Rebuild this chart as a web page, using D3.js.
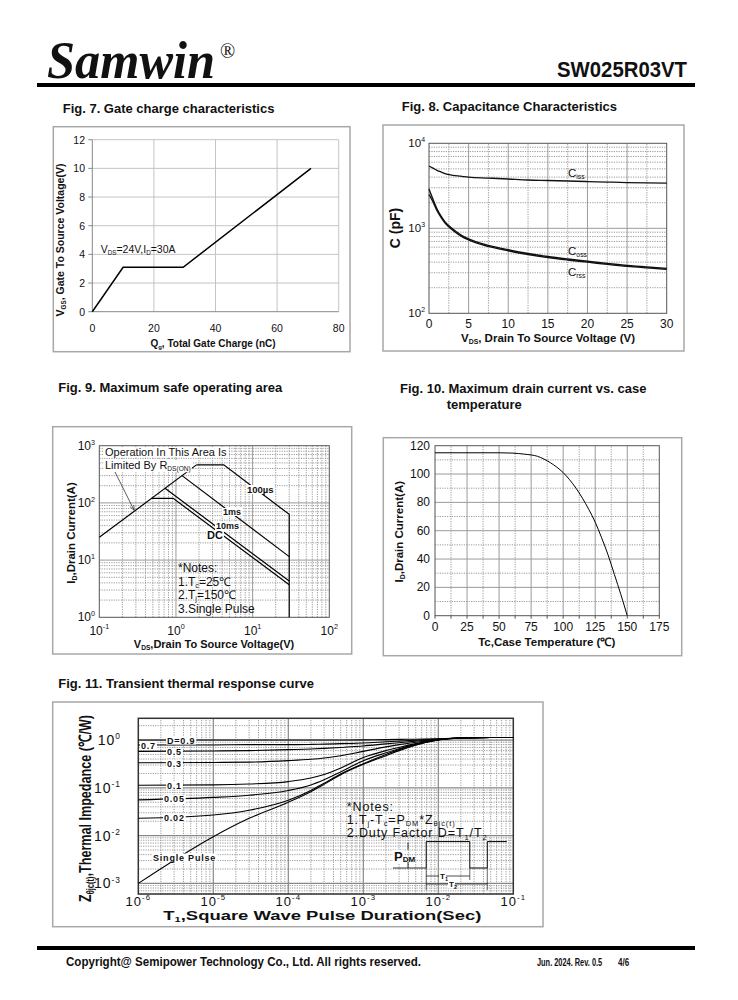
<!DOCTYPE html>
<html>
<head>
<meta charset="utf-8">
<script src="https://cdn.jsdelivr.net/npm/d3@7"></script>
<style>
  body { margin: 0; background: #fff; }
  svg { display: block; }
  text { font-family: "Liberation Sans", Arial, sans-serif; fill: #111; }
</style>
</head>
<body>
<svg width="738" height="1000"></svg>
<script>
// Fig. 7 gate charge
const gateCharge = [0, 10, 29.5, 71];
const gateVoltage = [0, 3.1, 3.1, 10];
const gateXTicks = [0, 20, 40, 60, 80];
const gateYTicks = [0, 2, 4, 6, 8, 10, 12];

// Fig. 8 capacitance
const capVds = [0, 0.5, 1, 1.5, 2, 3, 4, 5, 7.5, 10, 12.5, 15, 17.5, 20, 22.5, 25, 27.5, 30];
const capCiss = [5400, 5100, 4800, 4600, 4400, 4200, 4100, 4000, 3900, 3800, 3700, 3650, 3600, 3550, 3500, 3450, 3420, 3400];
const capCoss = [2900, 2200, 1700, 1400, 1200, 980, 840, 750, 630, 560, 505, 465, 435, 410, 385, 365, 350, 338];
const capCrss = [2500, 2050, 1620, 1350, 1160, 950, 815, 730, 612, 545, 492, 453, 424, 400, 376, 356, 342, 330];
const capXTicks = [0, 5, 10, 15, 20, 25, 30];
const capYTicks = [100, 1000, 10000];
const capYExp = ["2", "3", "4"];

// Fig. 9 safe operating area
const soaRdsV = [0.1, 1.85], soaRdsI = [25, 462];
const soa100usV = [1.85, 4.2, 30, 30], soa100usI = [462, 462, 63, 1];
const soa1msV = [1.2, 30], soa1msI = [300, 11.5];
const soa10msV = [0.72, 30], soa10msI = [180, 4.3];
const soaDcV = [0.48, 0.92, 30], soaDcI = [120, 120, 3.7];
const soaXTicks = [0.1, 1, 10, 100], soaXExp = ["-1", "0", "1", "2"];
const soaYTicks = [1, 10, 100, 1000], soaYExp = ["0", "1", "2", "3"];

// Fig. 10 derating
const tempC = [0, 25, 50, 60, 70, 80, 90, 100, 110, 115, 120, 125, 130, 135, 140, 145, 150];
const idMax = [115, 115, 115, 114.8, 114, 112.5, 108, 101, 90, 83, 75, 66, 55, 43, 29, 15, 0];
const tempXTicks = [0, 25, 50, 75, 100, 125, 150, 175];
const tempYTicks = [0, 20, 40, 60, 80, 100, 120];

// Fig. 11 transient thermal
const thermT = [1e-6, 1e-5, 3e-5, 1e-4, 2e-4, 3e-4, 5e-4, 1e-3, 2e-3, 3e-3, 5e-3, 1e-2, 2e-2, 3e-2, 5e-2, 1e-1];
const thermD09 = [1.0, 1.0, 1.0, 1.0, 1.0, 1.0, 1.0, 1.01, 1.02, 1.03, 1.04, 1.06, 1.1, 1.12, 1.13, 1.13];
const thermD07 = [0.79, 0.79, 0.8, 0.8, 0.81, 0.82, 0.84, 0.87, 0.92, 0.95, 0.99, 1.05, 1.1, 1.12, 1.13, 1.13];
const thermD05 = [0.58, 0.59, 0.6, 0.63, 0.65, 0.67, 0.7, 0.75, 0.83, 0.88, 0.95, 1.04, 1.1, 1.12, 1.13, 1.13];
const thermD03 = [0.335, 0.34, 0.345, 0.37, 0.395, 0.42, 0.47, 0.58, 0.72, 0.8, 0.9, 1.03, 1.1, 1.12, 1.13, 1.13];
const thermD01 = [0.113, 0.115, 0.12, 0.135, 0.16, 0.19, 0.26, 0.43, 0.6, 0.7, 0.84, 1.02, 1.1, 1.12, 1.13, 1.13];
const thermD005 = [0.056, 0.063, 0.07, 0.088, 0.115, 0.148, 0.215, 0.37, 0.54, 0.66, 0.81, 1.01, 1.1, 1.12, 1.13, 1.13];
const thermD002 = [0.023, 0.027, 0.034, 0.055, 0.088, 0.125, 0.195, 0.32, 0.5, 0.63, 0.8, 1.0, 1.1, 1.12, 1.13, 1.13];
const thermSingle = [0.001, 0.0095, 0.023, 0.05, 0.083, 0.118, 0.188, 0.31, 0.47, 0.6, 0.78, 1.0, 1.1, 1.12, 1.13, 1.13];
const thermXTicks = [1e-6, 1e-5, 1e-4, 1e-3, 1e-2, 1e-1], thermXExp = ["-6", "-5", "-4", "-3", "-2", "-1"];
const thermYTicks = [1e-3, 1e-2, 1e-1, 1], thermYExp = ["-3", "-2", "-1", "0"];

const svg = d3.select("svg");
const narrow = "'Liberation Sans Narrow', 'Liberation Sans', sans-serif";

// ---------- helpers ----------
function rich(t, parts, size) {
  let shift = 0;
  parts.forEach(([s, k]) => {
    const target = k === "sub" ? size * 0.2 : k === "sup" ? -size * 0.42 : 0;
    t.append("tspan").attr("dy", target - shift).attr("font-size", k ? size * 0.6 : size).text(s);
    shift = target;
  });
  return t;
}

function powLabel(g, x, y, exp, size, anchor, extra) {
  const t = g.append("text").attr("x", x).attr("y", y).attr("text-anchor", anchor).attr("font-size", size);
  if (extra) extra(t);
  return rich(t, [["10", ""], [exp, "sup"]], size);
}

function gridLines(g, x, y, xs, ys, stroke, dash, width) {
  const [x0, x1] = x.range(), [y0, y1] = y.range();
  const gg = g.append("g").attr("stroke", stroke).attr("stroke-width", width || 1)
    .attr("stroke-dasharray", dash || null).attr("fill", "none");
  gg.selectAll(".v").data(xs).join("line").attr("class", "v")
    .attr("x1", d => x(d)).attr("x2", d => x(d)).attr("y1", y0).attr("y2", y1);
  gg.selectAll(".h").data(ys).join("line").attr("class", "h")
    .attr("x1", x0).attr("x2", x1).attr("y1", d => y(d)).attr("y2", d => y(d));
}

function logMinors(scale) {
  const [lo, hi] = scale.domain();
  const out = [];
  for (let e = Math.floor(Math.log10(lo)); e < Math.ceil(Math.log10(hi)); e++)
    for (let k = 2; k < 10; k++) {
      const v = k * Math.pow(10, e);
      if (v > lo && v < hi) out.push(v);
    }
  return out;
}

function frame(g, x, y, stroke, width) {
  const [x0, x1] = x.range(), [y0, y1] = y.range();
  g.append("rect").attr("x", x0).attr("y", y1).attr("width", x1 - x0).attr("height", y0 - y1)
    .attr("fill", "none").attr("stroke", stroke).attr("stroke-width", width || 1);
}

function panelBox(x0, y0, x1, y1) {
  svg.append("rect").attr("x", x0).attr("y", y0).attr("width", x1 - x0).attr("height", y1 - y0)
    .attr("fill", "none").attr("stroke", "#a8a8a8").attr("stroke-width", 1.5);
}

function title(x, y, str) {
  svg.append("text").attr("x", x).attr("y", y).attr("font-size", 13).attr("font-weight", "bold").text(str);
}

function whiteBehind(g, t) {
  const b = t.node().getBBox();
  g.insert("rect", () => t.node()).attr("x", b.x - 1).attr("y", b.y + 1)
    .attr("width", b.width + 2).attr("height", b.height - 2).attr("fill", "#fff");
  return t;
}

function boxedText(g, x, y, str, size, opts) {
  opts = opts || {};
  const t = g.append("text").attr("x", x).attr("y", y).attr("font-size", size)
    .attr("font-weight", opts.bold === false ? null : "bold")
    .attr("letter-spacing", opts.ls || 0).text(str);
  return whiteBehind(g, t);
}

const pathOf = (x, y, curve) => d3.line().x(d => x(d[0])).y(d => y(d[1])).curve(curve || d3.curveLinear);

// ---------- header / footer ----------
svg.append("text").attr("x", 47).attr("y", 78).style("font-family", "'Liberation Serif', 'Times New Roman', serif")
  .attr("font-size", 52).attr("font-weight", "bold").attr("font-style", "italic")
  .attr("textLength", 168).attr("lengthAdjust", "spacingAndGlyphs").text("Samwin");
svg.append("text").attr("x", 220).attr("y", 58).style("font-family", "'Liberation Serif', serif")
  .attr("font-size", 20).text("®");
svg.append("text").attr("x", 687).attr("y", 77).attr("text-anchor", "end").attr("font-size", 22)
  .attr("font-weight", "bold").attr("textLength", 130).attr("lengthAdjust", "spacingAndGlyphs").text("SW025R03VT");
svg.append("rect").attr("x", 37).attr("y", 83).attr("width", 658).attr("height", 4).attr("fill", "#000");

svg.append("rect").attr("x", 37).attr("y", 946).attr("width", 658).attr("height", 4).attr("fill", "#000");
svg.append("text").attr("x", 66).attr("y", 966).attr("font-size", 12).attr("font-weight", "bold")
  .attr("textLength", 355).attr("lengthAdjust", "spacingAndGlyphs")
  .text("Copyright@ Semipower Technology Co., Ltd. All rights reserved.");
svg.append("text").attr("transform", "translate(537,966) scale(0.74,1)").attr("font-size", 10)
  .attr("font-weight", "bold").text("Jun. 2024. Rev. 0.5");
svg.append("text").attr("transform", "translate(618,966) scale(0.8,1)").attr("font-size", 10)
  .attr("font-weight", "bold").text("4/6");

// ---------- Fig. 7 ----------
title(62.7, 113, "Fig. 7. Gate charge characteristics");
panelBox(53.3, 126.7, 350, 351.7);
{
  const g = svg.append("g");
  const x = d3.scaleLinear([0, 80], [92.3, 338.7]);
  const y = d3.scaleLinear([0, 12], [311.7, 139.7]);
  gridLines(g, x, y, gateXTicks.slice(1), gateYTicks.slice(1), "#c4c4c4");
  g.append("line").attr("x1", x(0)).attr("x2", x(0)).attr("y1", y(0)).attr("y2", y(12)).attr("stroke", "#888");
  g.append("line").attr("x1", x(0)).attr("x2", x(80)).attr("y1", y(0)).attr("y2", y(0)).attr("stroke", "#888");
  g.selectAll(".yt").data(gateYTicks).join("line").attr("x1", x(0) - 4).attr("x2", x(0))
    .attr("y1", d => y(d)).attr("y2", d => y(d)).attr("stroke", "#888");
  g.selectAll(".yl").data(gateYTicks).join("text").attr("x", 85).attr("y", d => y(d) + 4)
    .attr("text-anchor", "end").attr("font-size", 10.5).attr("fill", "#222").text(d => d);
  g.selectAll(".xl").data(gateXTicks).join("text").attr("x", d => x(d)).attr("y", 332)
    .attr("text-anchor", "middle").attr("font-size", 10.5).attr("fill", "#222").text(d => d);
  g.append("path").attr("d", pathOf(x, y)(d3.zip(gateCharge, gateVoltage)))
    .attr("fill", "none").attr("stroke", "#000").attr("stroke-width", 1.5);
  rich(g.append("text").attr("x", 100.7).attr("y", 253).attr("fill", "#222"),
    [["V", ""], ["DS", "sub"], ["=24V,I", ""], ["D", "sub"], ["=30A", ""]], 10.5);
  rich(g.append("text").attr("transform", "translate(64,240) rotate(-90)").attr("text-anchor", "middle")
    .attr("font-weight", "bold"), [["V", ""], ["GS", "sub"], [",  Gate To  Source Voltage(V)", ""]], 10.5);
  rich(g.append("text").attr("x", 213).attr("y", 347).attr("text-anchor", "middle").attr("font-weight", "bold"),
    [["Q", ""], ["g", "sub"], [", Total Gate Charge (nC)", ""]], 10);
}

// ---------- Fig. 8 ----------
title(401.7, 111, "Fig. 8. Capacitance Characteristics");
panelBox(383, 125, 684, 351);
{
  const g = svg.append("g");
  const x = d3.scaleLinear([0, 30], [429, 666.7]);
  const y = d3.scaleLog([100, 10000], [313.3, 143.3]);
  gridLines(g, x, y, d3.range(2.5, 30, 5), logMinors(y), "#9a9a9a", "1.2,1.2");
  gridLines(g, x, y, capXTicks.slice(1, -1), [1000], "#9a9a9a");
  frame(g, x, y, "#555");
  capYTicks.forEach((v, i) => powLabel(g, 425, y(v) + 4, capYExp[i], 11.5, "end"));
  g.selectAll(".xl").data(capXTicks).join("text").attr("x", d => x(d)).attr("y", 328)
    .attr("text-anchor", "middle").attr("font-size", 12).text(d => d);
  const line = pathOf(x, y, d3.curveMonotoneX);
  [[capCiss, 1.3], [capCoss, 1.4], [capCrss, 1.4]].forEach(([vals, w]) =>
    g.append("path").attr("d", line(d3.zip(capVds, vals))).attr("fill", "none")
      .attr("stroke", "#111").attr("stroke-width", w));
  [["C", "iss", 177], ["C", "oss", 255], ["C", "rss", 276]].forEach(([a, b, yy]) =>
    rich(g.append("text").attr("x", 568).attr("y", yy), [[a, ""], [b, "sub"]], 11.5));
  g.append("text").attr("transform", "translate(400,228) rotate(-90)").attr("text-anchor", "middle")
    .attr("font-size", 14).attr("font-weight", "bold").text("C (pF)");
  rich(g.append("text").attr("x", 548).attr("y", 342).attr("text-anchor", "middle").attr("font-weight", "bold"),
    [["V", ""], ["DS", "sub"], [", Drain To Source Voltage (V)", ""]], 11.5);
}

// ---------- Fig. 9 ----------
title(58.3, 392, "Fig. 9. Maximum safe operating area");
panelBox(52.7, 426.7, 351.7, 654);
{
  const g = svg.append("g");
  const x = d3.scaleLog([0.1, 100], [99.3, 329.3]);
  const y = d3.scaleLog([1, 1000], [617.3, 445.7]);
  gridLines(g, x, y, logMinors(x), logMinors(y), "#9a9a9a", "1.2,1.2");
  gridLines(g, x, y, [1, 10], [10, 100], "#9a9a9a");
  frame(g, x, y, "#555");
  soaYTicks.forEach((v, i) => powLabel(g, 95, y(v) + 4, soaYExp[i], 12, "end"));
  soaXTicks.forEach((v, i) => powLabel(g, x(v), 634.5, soaXExp[i], 12, "middle"));
  const line = pathOf(x, y);
  [[soaRdsV, soaRdsI], [soa100usV, soa100usI], [soa1msV, soa1msI], [soa10msV, soa10msI], [soaDcV, soaDcI]]
    .forEach(([vs, is]) => g.append("path").attr("d", line(d3.zip(vs, is))).attr("fill", "none")
      .attr("stroke", "#000").attr("stroke-width", 1.2));
  boxedText(g, 247, 493, "100µs", 9.5);
  boxedText(g, 223, 515, "1ms", 9);
  boxedText(g, 216, 529, "10ms", 9);
  boxedText(g, 207, 539, "DC", 11);
  boxedText(g, 105, 456, "Operation In This Area Is", 11, { bold: false });
  whiteBehind(g, rich(g.append("text").attr("x", 105).attr("y", 469),
    [["Limited By R", ""], ["DS(ON)", "sub"]], 11));
  svg.append("defs").append("marker").attr("id", "ah").attr("viewBox", "0 0 10 10")
    .attr("refX", 9).attr("refY", 5).attr("markerWidth", 7).attr("markerHeight", 7).attr("orient", "auto")
    .append("path").attr("d", "M0,1 L10,5 L0,9").attr("fill", "none").attr("stroke", "#333").attr("stroke-width", 1.2);
  g.append("line").attr("x1", 115).attr("y1", 472).attr("x2", 134).attr("y2", 510)
    .attr("stroke", "#333").attr("stroke-width", 0.8).attr("marker-end", "url(#ah)");
  [[["*Notes:", ""]], [["1.T", ""], ["c", "sub"], ["=25℃", ""]], [["2.T", ""], ["j", "sub"], ["=150℃", ""]],
    [["3.Single Pulse", ""]]].forEach((parts, i) =>
    rich(g.append("text").attr("x", 178).attr("y", 572 + i * 13.5), parts, 12));
  rich(g.append("text").attr("transform", "translate(75,533) rotate(-90)").attr("text-anchor", "middle")
    .attr("font-weight", "bold"), [["I", ""], ["D", "sub"], [",Drain Current(A)", ""]], 11.5);
  rich(g.append("text").attr("x", 214).attr("y", 647.5).attr("text-anchor", "middle").attr("font-weight", "bold"),
    [["V", ""], ["DS", "sub"], [",Drain To Source Voltage(V)", ""]], 11);
}

// ---------- Fig. 10 ----------
title(400, 393.3, "Fig. 10. Maximum drain current vs. case");
title(446.7, 408.5, "temperature");
panelBox(383.3, 437.7, 681.7, 655.7);
{
  const g = svg.append("g");
  const x = d3.scaleLinear([0, 175], [435, 659.3]);
  const y = d3.scaleLinear([0, 120], [615.7, 445.7]);
  gridLines(g, x, y, d3.range(12.5, 175, 25), d3.range(10, 120, 20), "#9a9a9a", "1.2,1.2");
  gridLines(g, x, y, tempXTicks.slice(1, -1), tempYTicks.slice(1, -1), "#9a9a9a");
  frame(g, x, y, "#555");
  g.selectAll(".xt").data(d3.range(0, 176, 12.5)).join("line").attr("x1", d => x(d)).attr("x2", d => x(d))
    .attr("y1", y(0)).attr("y2", y(0) + 3).attr("stroke", "#555");
  g.selectAll(".yl").data(tempYTicks).join("text").attr("x", 430).attr("y", d => y(d) + 4)
    .attr("text-anchor", "end").attr("font-size", 12).text(d => d);
  g.selectAll(".xl").data(tempXTicks).join("text").attr("x", d => x(d)).attr("y", 631)
    .attr("text-anchor", "middle").attr("font-size", 12).text(d => d);
  g.append("path").attr("d", pathOf(x, y, d3.curveMonotoneX)(d3.zip(tempC, idMax)))
    .attr("fill", "none").attr("stroke", "#000").attr("stroke-width", 1);
  rich(g.append("text").attr("transform", "translate(403,531.7) rotate(-90)").attr("text-anchor", "middle")
    .attr("font-weight", "bold"), [["I", ""], ["D", "sub"], [",Drain Current(A)", ""]], 11.5);
  g.append("text").attr("x", 546.7).attr("y", 646).attr("text-anchor", "middle").attr("font-size", 11.5)
    .attr("font-weight", "bold").text("Tc,Case Temperature (℃)");
}

// ---------- Fig. 11 ----------
title(58.3, 688, "Fig. 11. Transient thermal response curve");
panelBox(52.7, 702, 543, 926.7);
{
  const g = svg.append("g");
  const x = d3.scaleLog([1e-6, 1e-1], [138.3, 513.3]);
  const y = d3.scaleLog([6e-4, 2.85], [894, 718.3]);
  gridLines(g, x, y, logMinors(x), logMinors(y), "#999", "1.2,1.2");
  gridLines(g, x, y, thermXTicks.slice(1, -1), thermYTicks, "#888", null, 1.2);
  frame(g, x, y, "#333", 1.5);
  thermYTicks.forEach((v, i) => powLabel(g, 121, y(v) + 5, thermYExp[i], 14, "end",
    t => t.attr("letter-spacing", 1)));
  thermXTicks.forEach((v, i) => powLabel(g, x(v), 905.5, thermXExp[i], 13, "middle",
    t => t.attr("letter-spacing", 1)));
  const line = pathOf(x, y, d3.curveMonotoneX);
  [thermD09, thermD07, thermD05, thermD03, thermD01, thermD005, thermD002, thermSingle].forEach(vals =>
    g.append("path").attr("d", line(d3.zip(thermT, vals))).attr("fill", "none")
      .attr("stroke", "#000").attr("stroke-width", 1.1));
  [["D=0.9", 167, 743.5], ["0.7", 141, 748.5], ["0.5", 167, 755], ["0.3", 167, 766.5], ["0.1", 167, 788.5],
    ["0.05", 164, 802], ["0.02", 164, 820.5], ["Single Pulse", 153, 860.5]]
    .forEach(([s, xx, yy]) => boxedText(g, xx, yy, s, 9, { ls: 0.8 }));
  // notes
  const nt = (yy, parts) => rich(g.append("text").attr("x", 346.7).attr("y", yy).attr("letter-spacing", 0.9), parts, 12.5);
  nt(810.5, [["*Notes:", ""]]);
  nt(823.5, [["1.T", ""], ["j", "sub"], ["-T", ""], ["c", "sub"], ["=P", ""], ["DM", "sub"], ["*Z", ""], ["θjc(t)", "sub"]]);
  nt(837, [["2.Duty Factor D=T", ""], ["1", "sub"], ["/T", ""], ["2", "sub"]]);
  // pulse sketch
  const pLo = 0.0021, pHi = 0.0075, pt = [6.9e-3, 2.63e-2, 4.5e-2, 8.2e-2];
  const ps = g.append("g").attr("fill", "none").attr("stroke", "#000").attr("stroke-width", 1);
  ps.append("path").attr("d", d3.line()([[x(pt[0]), y(pLo)], [x(pt[0]), y(pHi)], [x(pt[1]), y(pHi)],
    [x(pt[1]), y(pLo)], [x(pt[2]), y(pLo)], [x(pt[2]), y(pHi)], [x(pt[3]), y(pHi)]]));
  ps.append("line").attr("x1", 393).attr("x2", x(pt[0])).attr("y1", y(pLo)).attr("y2", y(pLo)).attr("stroke-width", 0.8);
  ps.append("line").attr("x1", 408).attr("x2", 408).attr("y1", y(pHi) + 1).attr("y2", y(pHi) + 8).attr("stroke-width", 0.8);
  ps.append("line").attr("x1", 408).attr("x2", 408).attr("y1", y(pLo) - 6).attr("y2", y(pLo)).attr("stroke-width", 0.8);
  [[x(pt[0]), y(pLo), 890], [x(pt[1]), y(pLo), 880], [x(pt[2]), y(pLo), 890]].forEach(([xx, y1, y2]) =>
    ps.append("line").attr("x1", xx).attr("x2", xx).attr("y1", y1).attr("y2", y2).attr("stroke-width", 0.6));
  ps.append("line").attr("x1", x(pt[0])).attr("x2", x(pt[1])).attr("y1", 876).attr("y2", 876).attr("stroke-width", 0.7);
  ps.append("line").attr("x1", x(pt[0])).attr("x2", x(pt[2])).attr("y1", 884).attr("y2", 884).attr("stroke-width", 0.7);
  boxedText(g, 440, 879, "T", 8).append("tspan").attr("font-size", 5.5).attr("dy", 2).text("1");
  boxedText(g, 449, 887, "T", 8).append("tspan").attr("font-size", 5.5).attr("dy", 2).text("2");
  boxedText(g, 394, 861, "P", 13).append("tspan").attr("font-size", 8).attr("dy", 1).text("DM");
  // axis titles
  rich(g.append("text").attr("transform", "translate(91,902) rotate(-90)").attr("font-weight", "bold")
    .style("font-family", narrow).attr("textLength", 187).attr("lengthAdjust", "spacingAndGlyphs"),
    [["Z", ""], ["θjc(t)", "sub"], [",Thermal Impedance (℃/W)", ""]], 17);
  g.append("text").attr("x", 163.3).attr("y", 919.5).attr("font-size", 12.5).attr("font-weight", "bold")
    .attr("textLength", 318).attr("lengthAdjust", "spacingAndGlyphs")
    .call(t => rich(t, [["T", ""], ["1", "sub"], [",Square Wave Pulse Duration(Sec)", ""]], 12.5));
}
</script>
</body>
</html>
